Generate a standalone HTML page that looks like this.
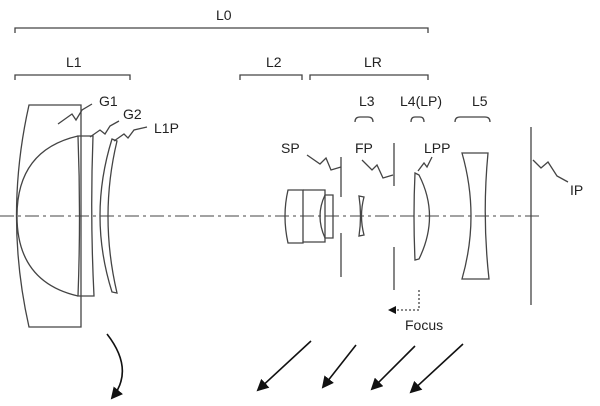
<!DOCTYPE html>
<html><head><meta charset="utf-8"><style>
body{margin:0;background:#fff;}
svg{display:block}
text{font-family:"Liberation Sans",sans-serif;font-size:14px;fill:#222}
</style></head><body>
<svg width="600" height="406" viewBox="0 0 600 406" xmlns="http://www.w3.org/2000/svg">
<defs><marker id="ah" markerWidth="8" markerHeight="8" refX="6" refY="4" orient="auto" markerUnits="userSpaceOnUse"><path d="M0,0 L8,4 L0,8 z" fill="#111"/></marker>
<marker id="ah2" markerWidth="12" markerHeight="12" refX="10" refY="6" orient="auto" markerUnits="userSpaceOnUse"><path d="M0,0 L12,6 L0,12 z" fill="#111"/></marker></defs>
<g fill="none" stroke="#444" stroke-width="1.3">
<path d="M15,33 V28 H428 V33"/>
<path d="M15,80 V75 H130 V80"/>
<path d="M240,80 V75 H302 V80"/>
<path d="M310,80 V75 H428 V80"/>
<path d="M355,122 Q355,117 360,117 H368 Q373,117 373,122"/>
<path d="M411,122 Q411,117 415,117 H420 Q424,117 424,122"/>
<path d="M455,122 Q455,117 460,117 H485 Q490,117 490,122"/>
<path d="M0,216 H540" stroke-dasharray="14,4,3,4" stroke-width="1"/>
<path d="M29,105 H81 V327 H29 Q4,216 29,105 Z"/>
<path d="M78,136 Q17,150 17,216 Q17,282 78,296"/>
<path d="M78,136 H93 Q90,216 94,296 H78 Q81,216 78,136 Z"/>
<path d="M112,139 L117,141 Q99,216 117,293 L112,292 Q88,216 112,139 Z"/>
<path d="M58,124 L72,114 L76,120 L82,110 L92,104"/>
<path d="M90,137 L100,130 L105,134 L110,126 L119,121"/>
<path d="M114,141 L124,134 L128,138 L134,130 L147,127"/>
<path d="M288,190 H303 V243 H288 Q282,216 288,190 Z"/>
<path d="M303,190 H325 V242 H303"/>
<path d="M325,195 H333 V238 H325 Q315,216 325,195"/>
<path d="M341,157 V197 M341,233 V277"/>
<path d="M307,155 L320,164 L326,158 L331,170 L341,167"/>
<path d="M359,196 L364,197 Q359,216 364,235 L359,236 Q362,216 359,196 Z"/>
<path d="M394,143 V186 M394,247 V290"/>
<path d="M362,160 L372,170 L377,165 L383,178 L393,175"/>
<path d="M415,173 L419,175 Q440,216 419,259 L415,260 Q413,216 415,173 Z"/>
<path d="M418,171 L424,163 L427,167 L432,157"/>
<path d="M462,153 H488 Q482,216 489,279 H462 Q480,216 462,153 Z"/>
<path d="M531,127 V305"/>
<path d="M533,160 L541,168 L548,162 L557,176 L568,182"/>
<path d="M419,290 V310 H390" stroke-dasharray="2,2" marker-end="url(#ah)"/>
</g>
<g fill="none" stroke="#111" stroke-width="1.6">
<path d="M107,334 Q135,370 112,398" marker-end="url(#ah2)"/>
<path d="M311,341 L258,390" marker-end="url(#ah2)"/>
<path d="M356,345 L323,387" marker-end="url(#ah2)"/>
<path d="M415,346 L372,389" marker-end="url(#ah2)"/>
<path d="M463,344 L411,392" marker-end="url(#ah2)"/>
</g>
<text x="216" y="20">L0</text>
<text x="66" y="67">L1</text>
<text x="266" y="67">L2</text>
<text x="364" y="67">LR</text>
<text x="359" y="106">L3</text>
<text x="400" y="106">L4(LP)</text>
<text x="472" y="106">L5</text>
<text x="99" y="106">G1</text>
<text x="123" y="119">G2</text>
<text x="154" y="133">L1P</text>
<text x="281" y="153">SP</text>
<text x="355" y="153">FP</text>
<text x="424" y="153">LPP</text>
<text x="570" y="195">IP</text>
<text x="405" y="330">Focus</text>
</svg>
</body></html>
